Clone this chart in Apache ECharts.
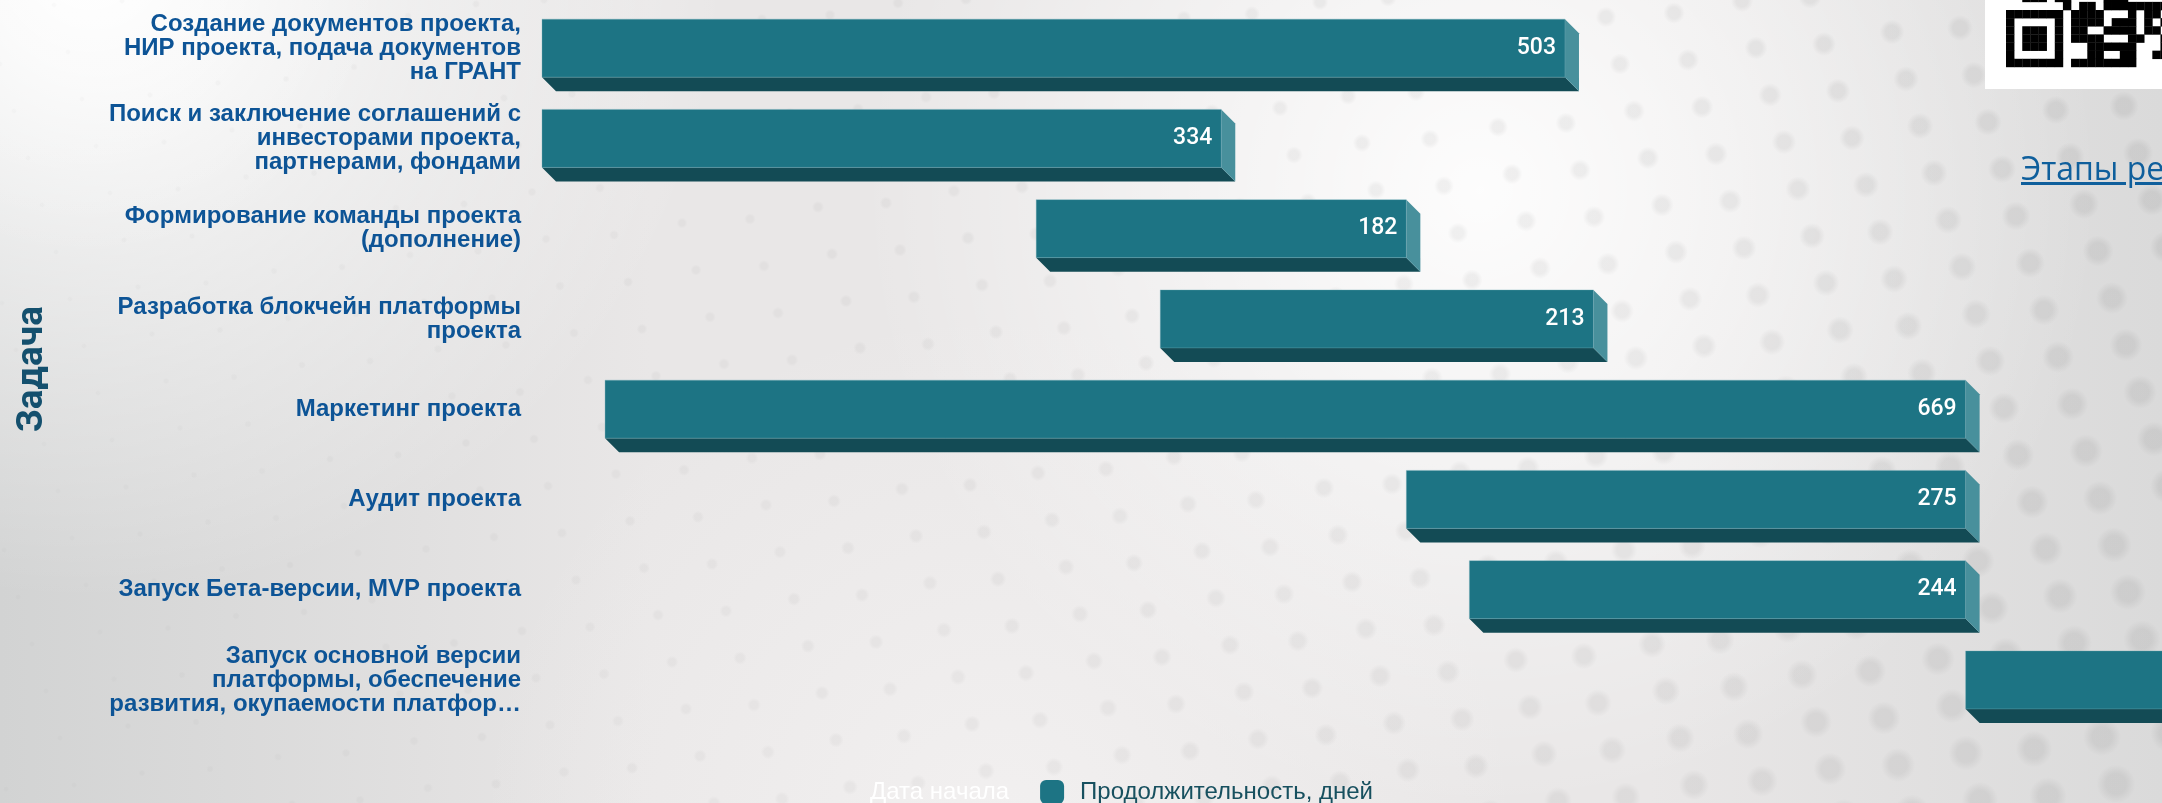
<!DOCTYPE html>
<html>
<head>
<meta charset="utf-8">
<title>Этапы реализации</title>
<script src="https://cdn.jsdelivr.net/npm/echarts@6/dist/echarts.min.js"></script>
<style>
html, body { margin: 0; padding: 0; width: 2162px; height: 803px; overflow: hidden; }
#bg, #main { position: absolute; left: 0; top: 0; width: 2162px; height: 803px; }
#link { position: absolute; left: 2021px; top: 146px; white-space: nowrap; color: #0f5f9c;
	font: 32px "Open Sans", sans-serif; text-decoration: underline; }
</style>
</head>
<body>
<canvas id="bg" width="2162" height="803"></canvas>
<div id="main"></div>
<a id="link">Этапы реализации проекта</a>
<script>
var categories = [
	'Создание документов проекта,\nНИР проекта, подача документов\nна ГРАНТ',
	'Поиск и заключение соглашений с\nинвесторами проекта,\nпартнерами, фондами',
	'Формирование команды проекта\n(дополнение)',
	'Разработка блокчейн платформы\nпроекта',
	'Маркетинг проекта',
	'Аудит проекта',
	'Запуск Бета-версии, MVP проекта',
	'Запуск основной версии\nплатформы, обеспечение\nразвития, окупаемости платфор…'
];
var startDays = [0, 0, 243, 304, 31, 425, 456, 700];
var durations = [503, 334, 182, 213, 669, 275, 244, 365];

// qr code corner, only the part that fits in the window
var qrRows = [
	'..###.##....###.........',
	'.......#.##.###########.',
	'#######.####...#.##.....',
	'#.....#.####.###.#.##...',
	'#.###.#.##..####.##.....',
	'#.###.#.####...##..##...',
	'#.###.#...######...###..',
	'#.....#...##..##..###...',
	'#######.########........'
];

drawBackground();

var myChart = echarts.init(document.getElementById('main'));

var barData = [];
for (var i = 0; i < categories.length; i++) {
	barData.push([startDays[i], startDays[i] + durations[i], i, durations[i]]);
}

function renderBar(params, api) {
	var depth = 14;
	var h = 58;
	var a = api.coord([api.value(0), api.value(2)]);
	var b = api.coord([api.value(1), api.value(2)]);
	var L = a[0], R = b[0], T = a[1] - h / 2, B = a[1] + h / 2;
	return {
		type: 'group',
		children: [
			{ type: 'polygon', shape: { points: [[L, B], [L + depth, B + depth], [R + depth, B + depth], [R, B]] },
				style: { fill: '#134b55' } },
			{ type: 'polygon', shape: { points: [[R, T], [R + depth, T + depth], [R + depth, B + depth], [R, B]] },
				style: { fill: '#48909c' } },
			{ type: 'rect', shape: { x: L, y: T, width: R - L, height: h },
				style: { fill: '#1d7484', stroke: 'rgba(120,175,185,0.35)', lineWidth: 1 } },
			{ type: 'text', style: { text: String(api.value(3)), x: R - 9, y: a[1], align: 'right', verticalAlign: 'middle',
				fill: '#ffffff', font: '500 23px Roboto' } }
		]
	};
}

var option = {
	animation: false,
	backgroundColor: 'transparent',
	grid: { left: 542, top: 3, width: 1627, height: 722, outerBoundsMode: 'none' },
	legend: {
		left: 825,
		top: 775,
		itemWidth: 24,
		itemHeight: 24,
		itemGap: 31,
		icon: 'roundRect',
		textStyle: { fontFamily: 'Liberation Sans', fontSize: 24, padding: [0, 0, 0, 11] },
		data: [
			{ name: 'Дата начала', textStyle: { color: '#ffffff' } },
			{ name: 'Продолжительность, дней', textStyle: { color: '#17505f' } }
		]
	},
	xAxis: { type: 'value', min: 0, max: 800, show: false },
	yAxis: {
		type: 'category',
		inverse: true,
		data: categories,
		axisLine: { show: false },
		axisTick: { show: false },
		axisLabel: {
			margin: 21,
			interval: 0,
			color: '#0d5496',
			fontFamily: 'Liberation Sans',
			fontWeight: 'bold',
			fontSize: 24,
			lineHeight: 24
		},
		name: 'Задача',
		nameLocation: 'middle',
		nameGap: 491,
		nameTextStyle: { color: '#14506e', fontFamily: 'Roboto', fontWeight: 'bold', fontSize: 37, padding: [0, 10, 0, 0] }
	},
	series: [
		{
			name: 'Дата начала',
			type: 'bar',
			stack: 'days',
			itemStyle: { color: 'transparent' },
			data: startDays
		},
		{
			name: 'Продолжительность, дней',
			type: 'custom',
			clip: false,
			itemStyle: { color: '#1d7484' },
			encode: { x: [0, 1], y: 2 },
			renderItem: renderBar,
			data: barData
		}
	]
};
myChart.setOption(option);

/* gradient, dots and the qr code behind the chart */
function drawBackground() {
	var ctx = document.getElementById('bg').getContext('2d');
	var w = 2162, h = 803;
	ctx.fillStyle = '#e9e7e7';
	ctx.fillRect(0, 0, w, h);

	var g = ctx.createLinearGradient(0, 0, 650, 0);
	g.addColorStop(0, 'rgba(210,211,211,1)');
	g.addColorStop(1, 'rgba(210,211,211,0)');
	ctx.fillStyle = g;
	ctx.fillRect(0, 0, w, h);

	g = ctx.createLinearGradient(1650, 0, w, 0);
	g.addColorStop(0, 'rgba(218,218,218,0)');
	g.addColorStop(1, 'rgba(218,218,218,1)');
	ctx.fillStyle = g;
	ctx.fillRect(0, 0, w, h);

	radial(1480, 190, 620, '255,255,255', 0.9);
	radial(90, -40, 640, '255,255,255', 1);
	radial(90, -40, 300, '255,255,255', 0.6);
	radial(1000, 830, 520, '244,242,242', 0.8);

	function radial(x, y, r, rgb, a) {
		var rg = ctx.createRadialGradient(x, y, 0, x, y, r);
		rg.addColorStop(0, 'rgba(' + rgb + ',' + a + ')');
		rg.addColorStop(1, 'rgba(' + rgb + ',0)');
		ctx.fillStyle = rg;
		ctx.fillRect(0, 0, w, h);
	}

	for (var row = -6; row < 24; row++) {
		for (var col = -4; col < 40; col++) {
			var x = col * 68 + row * 14;
			var y = row * 47 - col * 8 + 60 + (col % 2 ? 0 : 4);
			if (x < -20 || x > w + 20 || y < -20 || y > h + 20) continue;
			var fx = Math.max(x, 0) / w, fy = Math.max(y, 0) / h;
			var r = 2.5 + 10 * Math.pow(fx, 1.5) + 5 * fx * fy;
			var alpha = 0.015 + 0.05 * fx;
			var dot = ctx.createRadialGradient(x, y, r * 0.6, x, y, r * 1.15);
			dot.addColorStop(0, 'rgba(0,0,0,' + alpha + ')');
			dot.addColorStop(1, 'rgba(0,0,0,0)');
			ctx.fillStyle = dot;
			ctx.fillRect(x - r * 1.2, y - r * 1.2, r * 2.4, r * 2.4);
		}
	}

	ctx.fillStyle = '#ffffff';
	ctx.fillRect(1985, 0, 177, 89);
	ctx.fillStyle = '#000000';
	var cell = 8.13;
	for (var rw = 0; rw < qrRows.length; rw++) {
		for (var cl = 0; cl < qrRows[rw].length; cl++) {
			if (qrRows[rw].charAt(cl) === '#') {
				ctx.fillRect(2006 + cl * cell, 10 + (rw - 2) * cell, cell + 0.3, cell + 0.3);
			}
		}
	}
}
</script>
</body>
</html>
